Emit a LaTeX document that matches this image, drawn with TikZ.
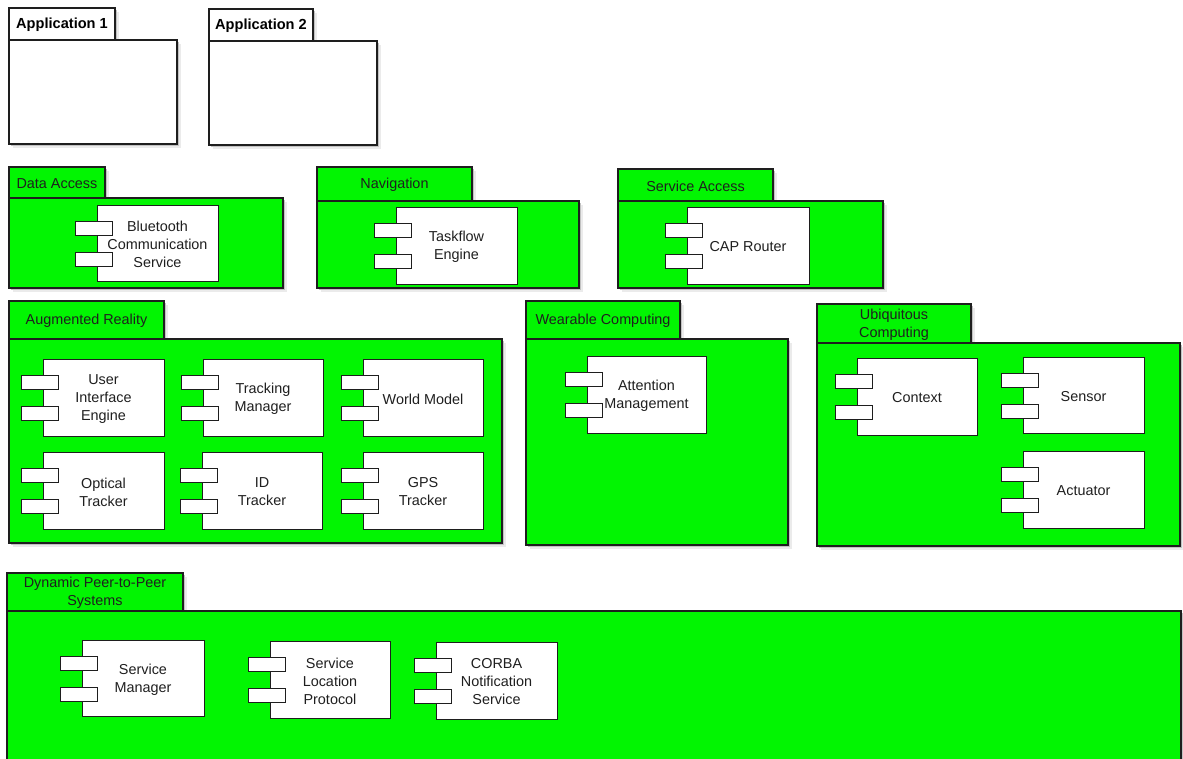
\documentclass[tikz,border=0pt]{standalone}
\usepackage{fontspec}
\setmainfont{Liberation Sans}
\definecolor{pkggreen}{RGB}{2,245,2}
\definecolor{edge}{RGB}{30,30,30}
\tikzset{
  shadowA/.style={fill=black!8, draw=none},
  shadowB/.style={fill=black!24, draw=none},
  pkgbox/.style={draw=edge, line width=1.3pt, inner sep=0pt, outer sep=0pt},
  compbox/.style={draw=edge, fill=white, line width=0.9pt, inner sep=0pt, outer sep=0pt},
  lbl/.style={font=\fontsize{14.4}{18}\selectfont, align=center, text=black!88},
  boldlbl/.style={font=\fontsize{14.6}{18}\selectfont\bfseries, align=center, text=black},
}
% #1 name, #2 tx1, #3 ty1, #4 tx2, #5 ty2, #6 bx2, #7 by2, #8 fill, #9 label
\newcommand\MakePkg[9]{%
  \fill[shadowA] ({#2+4},{#3+4}) rectangle ({#4+4},{#5});
  \fill[shadowA] ({#2+4},{#5+4}) rectangle ({#6+4},{#7+4});
  \fill[shadowB] ({#2+2},{#3+2}) rectangle ({#4+2},{#5});
  \fill[shadowB] ({#2+2},{#5+2}) rectangle ({#6+2},{#7+2});
  \node[pkgbox, fill=#8, anchor=north west, minimum width={#4pt-#2pt}, minimum height={#5pt-#3pt}] (#1-tab) at (#2,#3) {};
  \node[pkgbox, fill=#8, anchor=north west, minimum width={#6pt-#2pt}, minimum height={#7pt-#5pt}] (#1) at (#2,#5) {};
  \node[#9] (#1-label) at ([yshift=-1pt]#1-tab.center) {};
}
% #1 name, #2 x1, #3 y1, #4 x2, #5 y2, #6 text
\newcommand\MakeComp[6]{%
  \node[compbox, minimum width={#4pt-#2pt}, minimum height={#5pt-#3pt}] (#1) at ({(#2+#4)/2},{(#3+#5)/2}) {};
  \node[compbox, anchor=north west, minimum width=37pt, minimum height=14pt] (#1-p1) at ({#2-22},{#3+16}) {};
  \node[compbox, anchor=north west, minimum width=37pt, minimum height=14pt] (#1-p2) at ({#2-22},{#3+47}) {};
  \node[lbl, inner sep=0pt] (#1-text) at ([yshift=-1.5pt]#1.center) {#6};
}
\begin{document}
\begin{tikzpicture}[x=1pt, y=-1pt]
\useasboundingbox (0,0) rectangle (1183,758);
\fill[white] (0,0) rectangle (1183,758);
\clip (0,0) rectangle (1183,758);

\tikzset{
  la/.style={boldlbl, label={[boldlbl]center:Application 1}},
  lb/.style={boldlbl, label={[boldlbl]center:Application 2}},
  lc/.style={lbl, label={[lbl]center:Data Access}},
  ld/.style={lbl, label={[lbl]center:Navigation}},
  le/.style={lbl, label={[lbl]center:Service Access}},
  lf/.style={lbl, label={[lbl]center:Augmented Reality}},
  lg/.style={lbl, label={[lbl]center:Wearable Computing}},
  lh/.style={lbl, label={[lbl, align=center]center:{Ubiquitous\\Computing}}},
  li/.style={lbl, label={[lbl, align=center]center:{Dynamic Peer-to-Peer\\Systems}}},
}

\MakePkg{app1}{9}{8}{115}{40}{177}{144}{white}{la}
\MakePkg{app2}{209}{9}{313}{41}{377}{145}{white}{lb}
\MakePkg{data}{9}{167}{105}{198}{283}{288}{pkggreen}{lc}
\MakePkg{nav}{317}{167}{472}{201}{579}{288}{pkggreen}{ld}
\MakePkg{sacc}{618}{169}{773}{201}{883}{288}{pkggreen}{le}
\MakePkg{ar}{9}{301}{164}{339}{502}{543}{pkggreen}{lf}
\MakePkg{wear}{526}{301}{680}{339}{788}{545}{pkggreen}{lg}
\MakePkg{ubi}{817}{304}{971}{343}{1180}{546}{pkggreen}{lh}
\MakePkg{p2p}{7}{573}{183}{611}{1181}{780}{pkggreen}{li}

\MakeComp{bt}{97}{205}{218}{281}{Bluetooth\\Communication\\Service}
\MakeComp{tf}{396}{207}{517}{284}{Taskflow\\Engine}
\MakeComp{cap}{687}{207}{809}{284}{CAP Router}
\MakeComp{uie}{43}{359}{164}{436}{User\\Interface\\Engine}
\MakeComp{tm}{203}{359}{323}{436}{Tracking\\Manager}
\MakeComp{wm}{363}{359}{483}{436}{World Model}
\MakeComp{ot}{43}{452}{164}{529}{Optical\\Tracker}
\MakeComp{idt}{202}{452}{322}{529}{ID\\Tracker}
\MakeComp{gps}{363}{452}{483}{529}{GPS\\Tracker}
\MakeComp{att}{587}{356}{706}{433}{Attention\\Management}
\MakeComp{ctx}{857}{358}{977}{435}{Context}
\MakeComp{sen}{1023}{357}{1144}{433}{Sensor}
\MakeComp{act}{1023}{451}{1144}{528}{Actuator}
\MakeComp{sm}{82}{640}{204}{716}{Service\\Manager}
\MakeComp{slp}{270}{641}{390}{718}{Service\\Location\\Protocol}
\MakeComp{corba}{436}{642}{557}{719}{CORBA\\Notification\\Service}
\end{tikzpicture}
\end{document}
